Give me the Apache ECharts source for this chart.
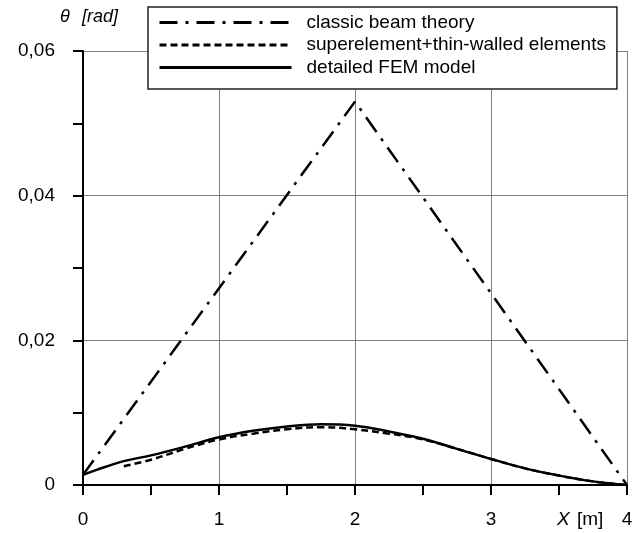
<!DOCTYPE html>
<html>
<head>
<meta charset="utf-8">
<script src="https://cdn.jsdelivr.net/npm/echarts@6/dist/echarts.min.js"></script>
<style>
html,body{margin:0;padding:0;background:#fff;}
#chart{width:642px;height:533px;}
</style>
</head>
<body>
<div id="chart"></div>
<script>
// ---- data ----
const seriesNames = ['classic beam theory', 'superelement+thin-walled elements', 'detailed FEM model'];
const xTicks = [0, 1, 2, 3, 4];
const yTicks = [0, 0.02, 0.04, 0.06];

const beamX = [0, 2, 4];
const beamY = [0.0014, 0.0530, 0.0000];

const superX = [0.3, 0.5, 0.75, 1.0, 1.25, 1.5, 1.75, 2.0, 2.25, 2.5, 2.75, 3.0, 3.25, 3.5, 3.75, 4.0];
const superY = [0.0026, 0.0035, 0.0050, 0.0063, 0.0071, 0.0077, 0.0080, 0.0077, 0.0071, 0.0063, 0.0050, 0.0036, 0.0023, 0.0013, 0.0005, 0.0000];

const femX = [0, 0.1, 0.3, 0.5, 0.75, 1.0, 1.25, 1.5, 1.75, 2.0, 2.25, 2.5, 2.75, 3.0, 3.25, 3.5, 3.75, 4.0];
const femY = [0.0014, 0.0021, 0.0033, 0.0041, 0.0053, 0.0066, 0.0075, 0.0081, 0.0084, 0.0082, 0.0074, 0.0064, 0.0050, 0.0036, 0.0023, 0.0013, 0.0005, 0.0000];

const zip = (xs, ys) => xs.map((x, i) => [x, ys[i]]);

const chart = echarts.init(document.getElementById('chart'), null, {renderer: 'canvas'});
const font = 'Liberation Sans, Arial, sans-serif';

chart.setOption({
  animation: false,
  backgroundColor: '#fff',
  color: ['#000', '#000', '#000'],
  grid: {left: 83, right: 15, top: 51, bottom: 48, containLabel: false},
  xAxis: {
    type: 'value', min: 0, max: 4, interval: 1,
    axisLine: {show: true, onZero: false, lineStyle: {color: '#000', width: 2}},
    axisTick: {show: true, inside: false, length: 10, lineStyle: {color: '#000', width: 2}},
    minorTick: {show: true, splitNumber: 2, length: 10, lineStyle: {color: '#000', width: 2}},
    splitLine: {show: true, lineStyle: {color: '#808080', width: 1}},
    axisLabel: {margin: 25, fontSize: 19, color: '#000', fontFamily: font,
      formatter: v => xTicks.includes(v) ? String(v) : ''}
  },
  yAxis: {
    type: 'value', min: 0, max: 0.06, interval: 0.02,
    axisLine: {show: true, onZero: false, lineStyle: {color: '#000', width: 2}},
    axisTick: {show: true, inside: false, length: 10, lineStyle: {color: '#000', width: 2}},
    minorTick: {show: true, splitNumber: 2, length: 10, lineStyle: {color: '#000', width: 2}},
    splitLine: {show: true, lineStyle: {color: '#808080', width: 1}},
    axisLabel: {margin: 28, fontSize: 19, color: '#000', fontFamily: font,
      formatter: v => {
        const t = yTicks.find(k => Math.abs(k - v) < 1e-9);
        if (t === undefined) return '';
        return t === 0 ? '0' : t.toFixed(2).replace('.', ',');
      }}
  },
  legend: {
    show: true, orient: 'vertical', left: 148, top: 7,
    padding: [6, 11, 12, 10],
    itemWidth: 132, itemHeight: 20, itemGap: 3.5,
    backgroundColor: '#fff', borderColor: '#222', borderWidth: 1.5,
    itemStyle: {opacity: 0},
    lineStyle: {width: 3},
    textStyle: {fontSize: 19, color: '#000', fontFamily: font, padding: [0, 0, 0, 10]},
    data: seriesNames
  },
  graphic: [
    {type: 'text', left: 60, top: 8, style: {text: 'θ', font: 'italic 18px ' + font, fill: '#000'}},
    {type: 'text', left: 82, top: 8, style: {text: '[rad]', font: 'italic 18px ' + font, fill: '#000'}},
    {type: 'text', left: 557, top: 510, style: {text: 'X', font: 'italic 19px ' + font, fill: '#000'}},
    {type: 'text', left: 577, top: 510, style: {text: '[m]', font: '19px ' + font, fill: '#000'}}
  ],
  series: [
    {
      name: seriesNames[0], type: 'line', data: zip(beamX, beamY), symbol: 'none',
      itemStyle: {color: '#000'},
      lineStyle: {color: '#000', width: 2.5, type: [18, 8, 3, 8]}, z: 3
    },
    {
      name: seriesNames[1], type: 'line', data: zip(superX, superY), symbol: 'none', smooth: 0.4,
      itemStyle: {color: '#000'},
      lineStyle: {color: '#000', width: 2.5, type: [7, 4]}, z: 4
    },
    {
      name: seriesNames[2], type: 'line', data: zip(femX, femY), symbol: 'none', smooth: 0.4,
      itemStyle: {color: '#000'},
      lineStyle: {color: '#000', width: 2.5, type: 'solid'}, z: 5
    }
  ]
});
</script>
</body>
</html>
